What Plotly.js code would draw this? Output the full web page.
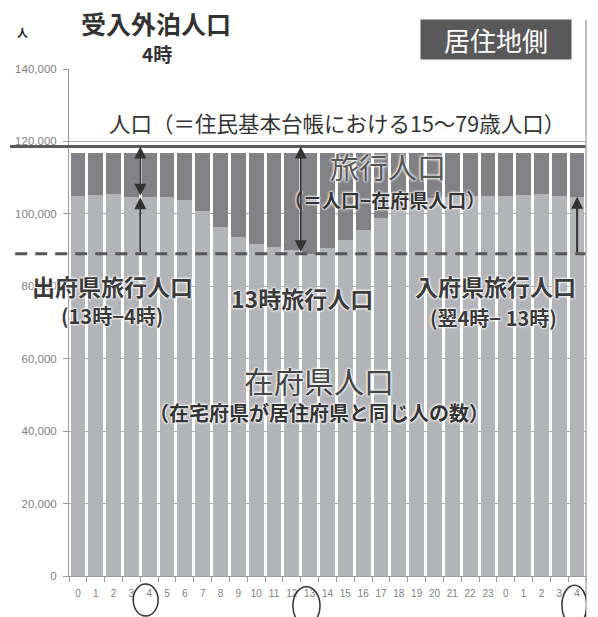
<!DOCTYPE html>
<html><head><meta charset="utf-8">
<script src="https://cdn.plot.ly/plotly-3.0.1.min.js"></script>
<style>html,body{margin:0;padding:0;background:#fff}#chart{width:598px;height:617px}</style>
</head><body><div id="chart"></div>
<script>
// hour-of-day labels (day 1 0..23, then next day 0..4)
const hours = ['0','1','2','3','4','5','6','7','8','9','10','11','12','13','14','15','16','17','18','19','20','21','22','23','0','1','2','3','4'];
// 在府県人口 (people present in their home prefecture)
const residentPop = [104800,105300,105500,104700,104600,104600,103900,100700,96500,93600,91700,90900,90100,89000,90600,92900,95600,98900,101500,103500,104500,104700,104800,104800,104800,105200,105400,104900,104700];
// 旅行人口 (population travelling)
const travelPop = [11900,11400,11200,12000,12100,12100,12800,16000,20200,23100,25000,25800,26600,27700,26100,23800,21100,17800,15200,13200,12200,12000,11900,11900,11900,11500,11300,11800,12000];
// 人口（住民基本台帳 15～79歳）
const population = 118600;
// positions of interest (indices into hours)
const i4 = 4, i13 = 13, iNext4 = 28;

const idx = hours.map((h, i) => i);
const jp = '"Noto Sans CJK JP", sans-serif';
const glow = '0px 0px 3px #fff, 0px 0px 3px #fff, 0px 0px 2px #fff';

const traces = [
  {type:'bar', x: idx, y: residentPop, name:'在府県人口', marker:{color:'#b3b4b8'}, hoverinfo:'skip'},
  {type:'bar', x: idx, y: travelPop, name:'旅行人口', marker:{color:'#828286'}, hoverinfo:'skip'}
];

function txt(text, x, y, size, opts) {
  return Object.assign({text, x, y, xref:'paper', yref:'paper', xanchor:'center', yanchor:'middle',
    showarrow:false, font:{family: jp, size, color:'#3a3a3a', shadow: glow}}, opts || {});
}
function arrow(xi, yHead, yTail, both) {
  return {x: xi, y: yHead, ax: xi, ay: yTail, xref:'x', yref:'y', axref:'x', ayref:'y',
    text:'', showarrow:true, arrowhead:2, startarrowhead:2, arrowsize:1.2, startarrowsize:1.2, arrowwidth:2,
    arrowcolor:'#333', arrowside: both ? 'end+start' : 'end', standoff:0, startstandoff:0};
}

const annotations = [
  txt('人', -0.089, 1.073, 11, {font:{family: jp, size: 11, color:'#222', weight: 700}}),
  txt('受入外泊人口', 0.168, 1.0907, 25, {font:{family: jp, size: 25, color:'#333', weight: 700}}),
  txt('4時', 0.170, 1.0296, 19, {font:{family: jp, size: 19, color:'#333', weight: 700}}),
  {text:'居住地側', x:0.826, y:1.058, xref:'paper', yref:'paper', xanchor:'center', yanchor:'middle',
    showarrow:false, bgcolor:'#595959', width:150, height:39, borderpad:0,
    font:{family: jp, size: 26, color:'#fff'}},
  txt('人口（＝住民基本台帳における15～79歳人口）', 0.518, 0.895, 21.5, {font:{family: jp, size: 21.5, color:'#333', shadow: glow}}),
  txt('旅行人口', 0.617, 0.809, 29, {font:{family: jp, size: 29, color:'#555', shadow: glow}}),
  txt('（＝人口−在府県人口）', 0.611, 0.742, 19, {font:{family: jp, size: 19, color:'#333', weight: 700, shadow: glow}}),
  txt('出府県旅行人口', 0.085, 0.572, 23, {font:{family: jp, size: 23, color:'#3a3a3a', weight: 700, shadow: glow}}),
  txt('(13時−4時)', 0.083, 0.513, 20, {font:{family: jp, size: 20, color:'#3a3a3a', weight: 700, shadow: glow}}),
  txt('13時旅行人口', 0.451, 0.548, 23, {font:{family: jp, size: 23, color:'#3a3a3a', weight: 700, shadow: glow}}),
  txt('入府県旅行人口', 0.824, 0.572, 23, {font:{family: jp, size: 23, color:'#3a3a3a', weight: 700, shadow: glow}}),
  txt('(翌4時− 13時)', 0.822, 0.509, 20, {font:{family: jp, size: 20, color:'#3a3a3a', weight: 700, shadow: glow}}),
  txt('在府県人口', 0.4836, 0.386, 30, {font:{family: jp, size: 30, color:'#444', shadow: glow}}),
  txt('（在宅府県が居住府県と同じ人の数）', 0.4836, 0.322, 20, {font:{family: jp, size: 20, color:'#333', weight: 700, shadow: glow}}),
  arrow(i4 - 0.5, population, residentPop[i4], true),
  arrow(i4 - 0.5, residentPop[i4], residentPop[i13], false),
  arrow(i13 - 0.5, population, residentPop[i13], true),
  arrow(iNext4, residentPop[iNext4], residentPop[i13], false)
];

const shapes = [
  // 人口 line
  {type:'line', xref:'paper', yref:'y', x0:-0.114, x1:1, y0:population, y1:population,
    line:{color:'#5a5a5a', width:3}},
  // 13時 在府県人口 level
  {type:'line', xref:'paper', yref:'y', x0:-0.104, x1:1, y0:residentPop[i13], y1:residentPop[i13],
    line:{color:'#555', width:3, dash:'12px,8px'}},
  // right border
  {type:'line', xref:'paper', yref:'paper', x0:1, x1:1, y0:-0.12, y1:1.097,
    line:{color:'#aaa', width:1.5}},
  // circles around 4, 13, 4
  {type:'circle', xref:'x', yref:'paper', x0:i4 - 0.9, x1:i4 + 0.5, y0:-0.016, y1:-0.079,
    line:{color:'#333', width:1.5}},
  {type:'circle', xref:'x', yref:'paper', x0:i13 - 0.94, x1:i13 + 0.58, y0:-0.021, y1:-0.097,
    line:{color:'#333', width:1.5}},
  {type:'circle', xref:'x', yref:'paper', x0:iNext4 - 0.85, x1:iNext4 + 0.55, y0:-0.018, y1:-0.097,
    line:{color:'#333', width:1.5}}
];

const layout = {
  width:598, height:617,
  margin:{l:69, r:12, t:69, b:41},
  paper_bgcolor:'#fff', plot_bgcolor:'#fff',
  barmode:'stack', bargap:0.17, showlegend:false,
  font:{family:'"Liberation Sans", Arial, sans-serif'},
  xaxis:{range:[-0.5, hours.length - 0.5], tickmode:'array', tickvals: idx, ticktext: hours,
    ticks:'', showgrid:false, zeroline:false, showline:true, linecolor:'#999', linewidth:1,
    tickfont:{size:10, color:'#808080'}, ticklabelstandoff:8,
    minor:{tickmode:'array', tickvals: idx.map(i => i - 0.5).concat([hours.length - 0.5]),
      ticks:'outside', ticklen:5, tickcolor:'#999', showgrid:false},
    fixedrange:true},
  yaxis:{range:[0,140000], dtick:20000, tick0:0, tickformat:',', ticks:'outside', ticklen:5,
    tickcolor:'#999', showline:true, linecolor:'#999', linewidth:1, gridcolor:'#a8a8a8', gridwidth:1,
    zeroline:false, tickfont:{size:11.5, color:'#808080'}, ticklabelstandoff:4, fixedrange:true},
  annotations, shapes
};

Plotly.newPlot('chart', traces, layout, {displayModeBar:false, staticPlot:true});
</script>
</body></html>
